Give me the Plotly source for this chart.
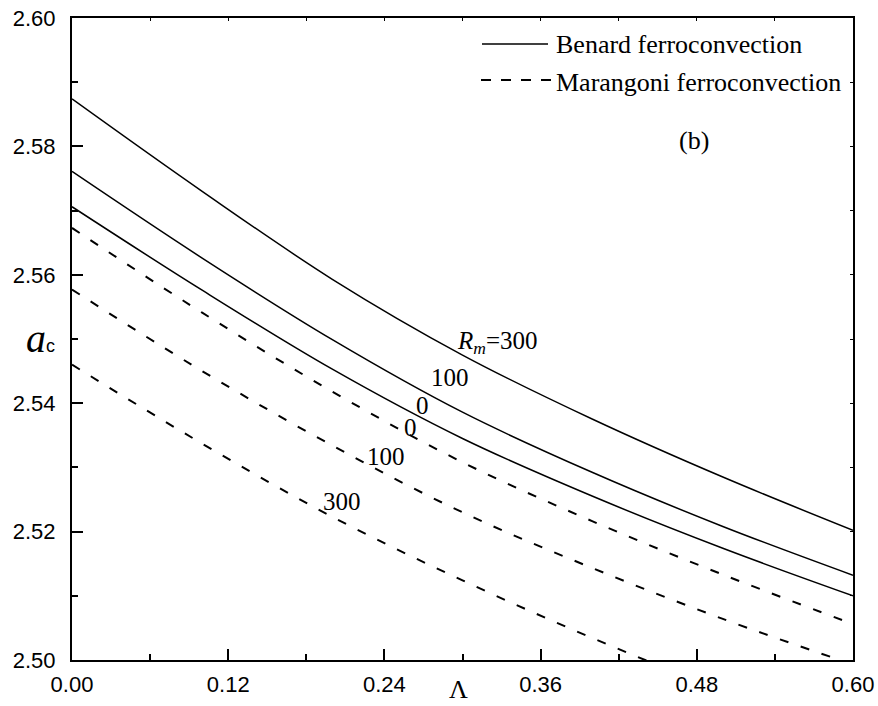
import plotly.graph_objects as go

# ---- data ----
lam = [0.0, 0.1, 0.2, 0.3, 0.4, 0.5, 0.6]
benard_0 = [2.5706, 2.5576, 2.5453, 2.5345, 2.5255, 2.5174, 2.5100]
benard_100 = [2.5761, 2.5626, 2.5499, 2.5386, 2.5292, 2.5208, 2.5132]
benard_300 = [2.5874, 2.5730, 2.5593, 2.5475, 2.5375, 2.5285, 2.5202]
marangoni_0 = [2.5673, 2.5541, 2.5418, 2.5308, 2.5216, 2.5133, 2.5056]
marangoni_100 = [2.5577, 2.5450, 2.5334, 2.5230, 2.5143, 2.5064, 2.4993]
marangoni_300 = [2.5460, 2.5337, 2.5223, 2.5124, 2.5034, 2.4952, 2.4878]

x_ticks = [0.00, 0.12, 0.24, 0.36, 0.48, 0.60]
x_tick_text = ["0.00", "0.12", "0.24", "0.36", "0.48", "0.60"]
y_ticks = [2.50, 2.52, 2.54, 2.56, 2.58, 2.60]
y_tick_text = ["2.50", "2.52", "2.54", "2.56", "2.58", "2.60"]

W, H = 878, 706
L, R, T, B = 72, 25, 18, 46
PW, PH = W - L - R, H - T - B


def px(xp):
    return (xp - L) / PW


def py(yp):
    return (H - B - yp) / PH


SERIF = "Liberation Serif"
SANS = "Liberation Sans"

fig = go.Figure()
solid = dict(color="black", width=1.5)
dashed = dict(color="black", width=2, dash="9px,13px")
for ys in (benard_300, benard_100, benard_0):
    fig.add_trace(go.Scatter(x=lam, y=ys, mode="lines", line=solid,
                             line_shape="spline", showlegend=False, hoverinfo="skip"))
for ys in (marangoni_0, marangoni_100, marangoni_300):
    fig.add_trace(go.Scatter(x=lam, y=ys, mode="lines", line=dashed,
                             line_shape="spline", showlegend=False, hoverinfo="skip"))

axis_common = dict(showline=True, linecolor="black", linewidth=2, ticks="inside",
                   tickcolor="black", tickwidth=2, ticklen=11, showgrid=False,
                   zeroline=False, automargin=False, ticklabeloverflow="allow",
                   tickfont=dict(family=SANS, size=22, color="black"))

fig.update_layout(
    width=W, height=H, margin=dict(l=L, r=R, t=T, b=B, autoexpand=False),
    paper_bgcolor="white", plot_bgcolor="white",
    xaxis=dict(range=[0, 0.6], tickvals=x_ticks, ticktext=x_tick_text,
               minor=dict(dtick=0.06, ticklen=6, tickwidth=2, tickcolor="black", ticks="inside"),
               ticklabelstandoff=4, **axis_common),
    yaxis=dict(range=[2.50, 2.60], tickvals=y_ticks, ticktext=y_tick_text,
               minor=dict(dtick=0.01, ticklen=6, tickwidth=2, tickcolor="black", ticks="inside"),
               ticklabelstandoff=10, **axis_common),
    xaxis2=dict(overlaying="x", side="top", range=[0, 0.6], showline=True, linecolor="black",
                linewidth=2, ticks="inside", tickcolor="black", tickwidth=1, ticklen=3,
                dtick=0.06, tick0=0, showticklabels=False, showgrid=False, zeroline=False,
                automargin=False),
    yaxis2=dict(overlaying="y", side="right", range=[2.50, 2.60], showline=True, linecolor="black",
                linewidth=2, ticks="inside", tickcolor="black", tickwidth=1, ticklen=3,
                dtick=0.01, tick0=2.5, showticklabels=False, showgrid=False, zeroline=False,
                automargin=False),
)
# invisible helper trace to activate the mirror axes
fig.add_trace(go.Scatter(x=[None], y=[None], xaxis="x2", yaxis="y2", showlegend=False,
                         hoverinfo="skip"))

# legend (drawn manually)
fig.add_shape(type="line", xref="paper", yref="paper", x0=px(482), x1=px(548), y0=py(44), y1=py(44),
              line=dict(color="black", width=1.5))
fig.add_shape(type="line", xref="paper", yref="paper", x0=px(481), x1=px(553), y0=py(80), y1=py(80),
              line=dict(color="black", width=2, dash="10px,10px"))


def ann(text, x, y, size=25, xanchor="center", family=SERIF):
    fig.add_annotation(text=text, x=px(x), y=py(y), xref="paper", yref="paper",
                       xanchor=xanchor, yanchor="middle", showarrow=False,
                       font=dict(family=family, size=size, color="black"))


ann("Benard ferroconvection", 554, 45, size=26, xanchor="left")
ann("Marangoni ferroconvection", 554, 82, size=26, xanchor="left")
ann("(b)", 694, 141, size=26)

ann("<i>R</i><sub><i>m</i></sub>=300", 498, 342, size=25)
ann("100", 450, 377)
ann("0", 422, 405)
ann("0", 410, 427)
ann("100", 386, 456)
ann("300", 342, 501)

ann("<i>a</i><span style='font-family:Liberation Sans;font-size:18px'>c</span>", 24, 338, size=40,
    xanchor="left")
ann("Λ", 458, 690, size=26)

fig.write_html("out.html", config={"displayModeBar": False},
               post_script="document.body.style.margin='0';document.body.style.overflow='hidden';")
